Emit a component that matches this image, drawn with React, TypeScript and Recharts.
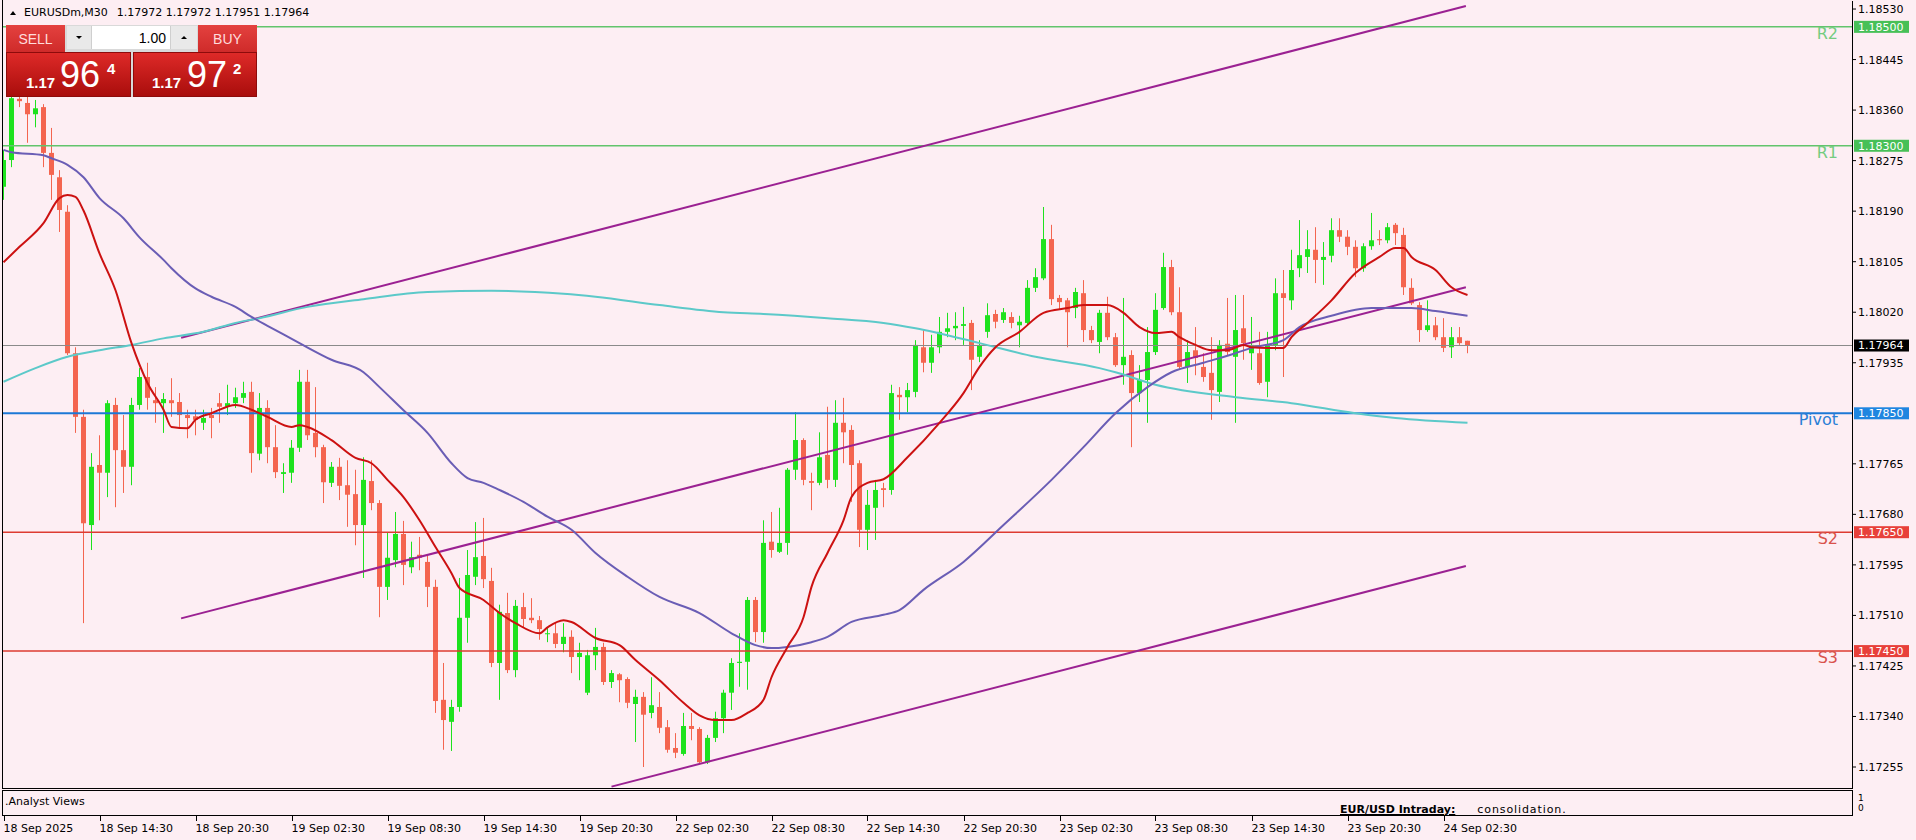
import React from 'react';
import { ComposedChart, Bar, Line, XAxis, YAxis, ReferenceLine } from 'recharts';

// ---------- DATA (EURUSDm, M30) ----------
const opens = [
  1.18231,1.18276,1.18379,1.18372,1.18353,1.18365,1.18288,1.18247,1.18189,1.17951,
  1.17844,1.17662,1.17763,1.17750,1.17864,1.17788,1.17760,1.17864,1.17911,1.17872,
  1.17867,1.17872,1.17869,1.17847,1.17845,1.17834,1.17847,1.17867,1.17861,1.17867,
  1.17876,1.17886,1.17782,1.17859,1.17793,1.17748,1.17750,1.17792,1.17903,1.17817,
  1.17793,1.17733,1.17760,1.17729,1.17714,1.17662,1.17736,1.17699,1.17558,1.17603,
  1.17647,1.17591,1.17612,1.17600,1.17558,1.17368,1.17331,1.17356,1.17506,1.17575,
  1.17610,1.17568,1.17430,1.17514,1.17418,1.17524,1.17506,1.17502,1.17479,1.17480,
  1.17462,1.17474,1.17440,1.17380,1.17443,1.17457,1.17398,1.17411,1.17403,1.17361,
  1.17373,1.17346,1.17356,1.17322,1.17287,1.17277,1.17324,1.17319,1.17263,1.17304,
  1.17337,1.17380,1.17430,1.17432,1.17536,1.17482,1.17634,1.17617,1.17632,1.17755,
  1.17805,1.17736,1.17733,1.17780,1.17738,1.17834,1.17822,1.17766,1.17654,1.17691,
  1.17724,1.17721,1.17881,1.17877,1.17886,1.17961,1.17935,1.17961,1.17987,1.17993,
  1.17997,1.18002,1.17945,1.17987,1.18017,1.18007,1.18012,1.17998,1.18002,1.18061,
  1.18077,1.18143,1.18044,1.18040,1.18027,1.18052,1.17990,1.17970,1.18019,1.17978,
  1.17931,1.17948,1.17884,1.17906,1.17953,1.18027,1.18096,1.18020,1.17928,1.17956,
  1.17928,1.17918,1.17886,1.17967,1.17945,1.17993,1.17951,1.17951,1.17903,1.17965,
  1.18052,1.18040,1.18094,1.18113,1.18125,1.18108,1.18115,1.18158,1.18147,1.18130,
  1.18094,1.18131,1.18143,1.18141,1.18167,1.18150,1.18061,1.18032,1.17990,1.17998,
  1.17978,1.17961,1.17978,1.17972,
];
const highs = [
  1.18293,1.18385,1.18384,1.18382,1.18377,1.18370,1.18330,1.18259,1.18200,1.17961,
  1.17856,1.17783,1.17813,1.17872,1.17876,1.17847,1.17876,1.17926,1.17935,1.17894,
  1.17884,1.17909,1.17884,1.17856,1.17856,1.17856,1.17859,1.17884,1.17898,1.17893,
  1.17903,1.17903,1.17884,1.17872,1.17830,1.17766,1.17805,1.17923,1.17923,1.17894,
  1.17797,1.17768,1.17775,1.17771,1.17755,1.17776,1.17771,1.17704,1.17649,1.17684,
  1.17669,1.17634,1.17642,1.17612,1.17570,1.17430,1.17368,1.17573,1.17620,1.17667,
  1.17674,1.17590,1.17528,1.17548,1.17536,1.17548,1.17539,1.17509,1.17489,1.17497,
  1.17497,1.17485,1.17464,1.17452,1.17489,1.17464,1.17418,1.17413,1.17406,1.17385,
  1.17381,1.17406,1.17381,1.17334,1.17312,1.17346,1.17346,1.17322,1.17309,1.17348,
  1.17385,1.17438,1.17480,1.17541,1.17541,1.17670,1.17684,1.17691,1.17758,1.17852,
  1.17808,1.17750,1.17818,1.17861,1.17872,1.17876,1.17830,1.17771,1.17721,1.17738,
  1.17733,1.17898,1.17894,1.17901,1.17973,1.17990,1.17982,1.18012,1.18019,1.18020,
  1.18029,1.18007,1.17973,1.18035,1.18024,1.18027,1.18020,1.18014,1.18074,1.18094,
  1.18197,1.18167,1.18049,1.18044,1.18061,1.18074,1.17997,1.18024,1.18046,1.17985,
  1.18044,1.17956,1.17931,1.17995,1.18052,1.18120,1.18108,1.18062,1.17973,1.17995,
  1.17951,1.17978,1.17973,1.18044,1.18049,1.18049,1.18012,1.17987,1.17987,1.18077,
  1.18091,1.18125,1.18175,1.18158,1.18163,1.18138,1.18178,1.18178,1.18158,1.18141,
  1.18136,1.18187,1.18158,1.18170,1.18170,1.18162,1.18077,1.18037,1.18040,1.18012,
  1.18010,1.17995,1.17995,1.17972,
];
const lows = [
  1.18209,1.18264,1.18365,1.18305,1.18331,1.18264,1.18209,1.18155,1.17948,1.17817,
  1.17497,1.17620,1.17670,1.17709,1.17692,1.17716,1.17729,1.17856,1.17856,1.17834,
  1.17817,1.17844,1.17827,1.17808,1.17813,1.17822,1.17808,1.17834,1.17847,1.17859,
  1.17867,1.17750,1.17771,1.17766,1.17741,1.17716,1.17733,1.17785,1.17805,1.17776,
  1.17699,1.17726,1.17704,1.17659,1.17628,1.17573,1.17687,1.17507,1.17536,1.17591,
  1.17561,1.17581,1.17586,1.17524,1.17346,1.17284,1.17282,1.17348,1.17464,1.17561,
  1.17556,1.17423,1.17368,1.17413,1.17406,1.17489,1.17497,1.17469,1.17465,1.17455,
  1.17448,1.17413,1.17401,1.17376,1.17418,1.17393,1.17388,1.17364,1.17354,1.17297,
  1.17255,1.17337,1.17312,1.17279,1.17270,1.17274,1.17300,1.17260,1.17260,1.17297,
  1.17312,1.17351,1.17390,1.17385,1.17465,1.17464,1.17607,1.17615,1.17612,1.17738,
  1.17729,1.17687,1.17729,1.17724,1.17726,1.17766,1.17701,1.17625,1.17620,1.17637,
  1.17692,1.17713,1.17839,1.17852,1.17877,1.17919,1.17918,1.17951,1.17978,1.17973,
  1.17965,1.17889,1.17936,1.17977,1.17993,1.18002,1.17993,1.17961,1.17998,1.18054,
  1.18074,1.18032,1.18024,1.17961,1.18010,1.17970,1.17968,1.17951,1.17973,1.17928,
  1.17898,1.17793,1.17869,1.17834,1.17948,1.18024,1.18015,1.17923,1.17901,1.17914,
  1.17903,1.17839,1.17869,1.17948,1.17834,1.17940,1.17923,1.17898,1.17877,1.17956,
  1.17911,1.18024,1.18079,1.18086,1.18069,1.18066,1.18104,1.18138,1.18116,1.18079,
  1.18088,1.18125,1.18133,1.18136,1.18133,1.18049,1.18032,1.17970,1.17987,1.17973,
  1.17953,1.17943,1.17965,1.17951,
];
const closes = [
  1.18276,1.18380,1.18375,1.18353,1.18363,1.18288,1.18251,1.18192,1.17951,1.17844,
  1.17665,1.17760,1.17750,1.17867,1.17788,1.17760,1.17864,1.17911,1.17876,1.17867,
  1.17874,1.17867,1.17847,1.17842,1.17839,1.17842,1.17842,1.17861,1.17867,1.17877,
  1.17884,1.17783,1.17859,1.17793,1.17751,1.17751,1.17792,1.17903,1.17813,1.17793,
  1.17734,1.17760,1.17728,1.17713,1.17662,1.17738,1.17699,1.17558,1.17607,1.17647,
  1.17595,1.17608,1.17607,1.17558,1.17366,1.17334,1.17356,1.17506,1.17578,1.17608,
  1.17571,1.17430,1.17516,1.17418,1.17526,1.17504,1.17502,1.17487,1.17480,1.17462,
  1.17474,1.17440,1.17447,1.17443,1.17457,1.17398,1.17413,1.17401,1.17363,1.17373,
  1.17343,1.17359,1.17321,1.17284,1.17279,1.17324,1.17319,1.17263,1.17304,1.17337,
  1.17380,1.17430,1.17432,1.17536,1.17482,1.17632,1.17620,1.17632,1.17755,1.17805,
  1.17738,1.17733,1.17776,1.17738,1.17834,1.17818,1.17763,1.17654,1.17696,1.17721,
  1.17721,1.17884,1.17877,1.17889,1.17965,1.17935,1.17961,1.17987,1.17993,1.17997,
  1.18000,1.17940,1.17965,1.18015,1.18004,1.18020,1.18002,1.18004,1.18061,1.18079,
  1.18143,1.18042,1.18037,1.18020,1.18054,1.17990,1.17973,1.18019,1.17978,1.17931,
  1.17945,1.17884,1.17906,1.17953,1.18024,1.18096,1.18020,1.17928,1.17953,1.17943,
  1.17911,1.17889,1.17965,1.17953,1.17990,1.17968,1.17965,1.17901,1.17965,1.18052,
  1.18044,1.18091,1.18116,1.18126,1.18108,1.18113,1.18158,1.18147,1.18130,1.18094,
  1.18131,1.18141,1.18141,1.18163,1.18153,1.18062,1.18035,1.17990,1.17998,1.17978,
  1.17960,1.17978,1.17968,1.17964,
];

// moving averages (bar index -> value)
const redMaBars = [0,2,5,7,8,9,10,12,14,16,18,20,21,23,24,26,29,31,33,36,37,38,41,44,46,48,50,52,54,56,57,60,62,64,67,68,70,71,74,77,79,82,85,87,89,91,93,95,96,98,100,101,103,105,106,108,110,113,117,120,122,124,127,130,133,135,138,140,142,144,146,147,149,151,153,155,156,158,160,161,163,166,169,172,174,175,176,179,181,183];
const redMaValues = [1.18104,1.18130,1.18170,1.18212,1.18217,1.18214,1.18191,1.18119,1.18057,1.17968,1.17901,1.17856,1.17827,1.17825,1.17839,1.17850,1.17864,1.17856,1.17844,1.17827,1.17830,1.17827,1.17805,1.17775,1.17766,1.17738,1.17709,1.17670,1.17625,1.17581,1.17556,1.17536,1.17514,1.17497,1.17480,1.17490,1.17502,1.17499,1.17472,1.17460,1.17435,1.17401,1.17363,1.17342,1.17334,1.17334,1.17346,1.17368,1.17406,1.17457,1.17507,1.17558,1.17615,1.17670,1.17709,1.17733,1.17739,1.17776,1.17834,1.17884,1.17928,1.17961,1.17987,1.18019,1.18027,1.18032,1.18032,1.18019,1.17995,1.17985,1.17987,1.17978,1.17965,1.17956,1.17956,1.17965,1.17961,1.17960,1.17960,1.17978,1.18002,1.18040,1.18086,1.18113,1.18128,1.18128,1.18113,1.18091,1.18062,1.18049];
const blueMaBars = [0,1,5,6,8,10,12,15,17,20,21,24,26,29,31,34,37,41,45,47,50,53,56,58,60,62,65,68,71,74,78,82,87,91,94,96,98,101,103,106,110,112,115,120,125,131,135,139,143,146,150,154,156,160,162,166,171,176,179,183];
const blueMaValues = [1.18293,1.18289,1.18284,1.18279,1.18268,1.18247,1.18212,1.18178,1.18146,1.18108,1.18094,1.18060,1.18046,1.18029,1.18012,1.17990,1.17968,1.17940,1.17919,1.17894,1.17855,1.17817,1.17766,1.17741,1.17733,1.17721,1.17701,1.17676,1.17654,1.17615,1.17575,1.17541,1.17514,1.17480,1.17460,1.17455,1.17457,1.17465,1.17474,1.17499,1.17511,1.17519,1.17553,1.17600,1.17662,1.17738,1.17793,1.17850,1.17894,1.17919,1.17935,1.17951,1.17960,1.17973,1.17995,1.18014,1.18027,1.18027,1.18022,1.18014];
const cyanMaBars = [0,4,8,12,16,20,25,29,32,38,45,53,61,70,74,82,90,95,103,110,114,122,129,137,139,144,154,161,169,174,183];
const cyanMaValues = [1.17903,1.17926,1.17945,1.17956,1.17965,1.17976,1.17987,1.18002,1.18010,1.18029,1.18042,1.18054,1.18056,1.18051,1.18046,1.18032,1.18020,1.18017,1.18010,1.18002,1.17993,1.17968,1.17945,1.17926,1.17919,1.17898,1.17877,1.17867,1.17850,1.17842,1.17834];

// price axis ticks
const priceTicks = [1.18530,1.18445,1.18360,1.18275,1.18190,1.18105,1.18020,1.17935,1.17850,1.17765,1.17680,1.17595,1.17510,1.17425,1.17340,1.17255];
// horizontal levels
const levelValues = [1.18500, 1.18300, 1.17850, 1.17650, 1.17450];
const levelNames = ['R2', 'R1', 'Pivot', 'S2', 'S3'];
const levelKinds = ['r', 'r', 'p', 's', 's'];
const currentPrice = 1.17964;

// channel lines (bar index, price)
const channelUpper = [{ x: 22.2, y: 1.17977 }, { x: 182.8, y: 1.18535 }];
const channelMiddle = [{ x: 22.2, y: 1.17505 }, { x: 182.8, y: 1.18062 }];
const channelLower = [{ x: 76, y: 1.17222 }, { x: 182.8, y: 1.17593 }];

// time axis
const timeTickBars = [0,12,24,36,48,60,72,84,96,108,120,132,144,156,168,180];
const timeLabels = ['18 Sep 2025','18 Sep 14:30','18 Sep 20:30','19 Sep 02:30','19 Sep 08:30','19 Sep 14:30','19 Sep 20:30','22 Sep 02:30','22 Sep 08:30','22 Sep 14:30','22 Sep 20:30','23 Sep 02:30','23 Sep 08:30','23 Sep 14:30','23 Sep 20:30','24 Sep 02:30'];

const header = { symbol: 'EURUSDm,M30', o: '1.17972', h: '1.17972', l: '1.17951', c: '1.17964' };

// ---------- STYLE ----------
const BG = '#fdeef3';
const BULL = '#1ee21e';
const BEAR = '#f4654f';
const FONT = "'DejaVu Sans', sans-serif";
const X_DOMAIN: [number, number] = [-0.1875, 231.0625];
const Y_DOMAIN: [number, number] = [1.172197, 1.185435];
const AX = 1852;

const kindStyle: Record<string, { line: string; text: string; box: string; w: number }> = {
  r: { line: '#62c46c', text: '#74cc80', box: '#47c057', w: 1.5 },
  p: { line: '#1c78d6', text: '#2a7fd6', box: '#1f86e0', w: 2 },
  s: { line: '#dd3b31', text: '#d9534c', box: '#e8403a', w: 1.5 },
};

const data: any[] = opens.map((o, i) => ({
  i, o, h: highs[i], l: lows[i], c: closes[i], red: null, blue: null, cyan: null,
}));
redMaBars.forEach((b, k) => { data[b].red = redMaValues[k]; });
blueMaBars.forEach((b, k) => { data[b].blue = blueMaValues[k]; });
cyanMaBars.forEach((b, k) => { data[b].cyan = cyanMaValues[k]; });

const allYTicks = Array.from(new Set([...priceTicks, ...levelValues, currentPrice])).sort((a, b) => b - a);

function Candle(props: any) {
  const { x, y, width, height, payload } = props;
  if (!payload || x == null || y == null) return null;
  const { o, h, l, c } = payload;
  const cx = Math.round(x + width / 2) + 0.5;
  const k = h > l ? height / (h - l) : 0;
  const py = (p: number) => y + (h - p) * k;
  const up = c >= o;
  const color = up ? BULL : BEAR;
  const top = py(Math.max(o, c));
  const bot = py(Math.min(o, c));
  return (
    <g>
      <line x1={cx} x2={cx} y1={y} y2={y + Math.max(height, 1)} stroke={color} strokeWidth={1} />
      <rect x={cx - 2.5} y={top} width={5} height={Math.max(1, bot - top)} fill={color} />
    </g>
  );
}

function YTick(props: any) {
  const { y, payload } = props;
  const v = payload.value as number;
  const li = levelValues.findIndex((lv) => Math.abs(lv - v) < 1e-7);
  if (li >= 0) {
    const st = kindStyle[levelKinds[li]];
    return (
      <g>
        <rect x={AX + 2} y={y - 6} width={55} height={12} fill={st.box} />
        <text x={AX + 6} y={y} dy="0.36em" fontSize={11} fill="#ffffff" fontFamily={FONT}>{v.toFixed(5)}</text>
        <text x={AX - 14} y={y + 12} textAnchor="end" fontSize={16} fill={st.text} fontFamily={FONT}>{levelNames[li]}</text>
      </g>
    );
  }
  if (Math.abs(v - currentPrice) < 1e-7) {
    return (
      <g>
        <rect x={AX + 2} y={y - 6} width={55} height={12} fill="#000000" />
        <text x={AX + 6} y={y} dy="0.36em" fontSize={11} fill="#ffffff" fontFamily={FONT}>{v.toFixed(5)}</text>
      </g>
    );
  }
  return (
    <g>
      <line x1={AX} x2={AX + 4} y1={y} y2={y} stroke="#000" strokeWidth={1} />
      <text x={AX + 6} y={y} dy="0.36em" fontSize={11} fill="#000" fontFamily={FONT}>{v.toFixed(5)}</text>
    </g>
  );
}

function XTick(props: any) {
  const { x, payload } = props;
  const idx = timeTickBars.indexOf(payload.value);
  const tx = Math.round(x) + 0.5;
  return (
    <g>
      <line x1={tx} x2={tx} y1={816} y2={821} stroke="#000" strokeWidth={1} />
      <text x={tx - 1} y={832} fontSize={11} fill="#000" fontFamily={FONT}>{idx >= 0 ? timeLabels[idx] : ''}</text>
    </g>
  );
}

const abs = (l: number, t: number, w: number, h: number, extra: React.CSSProperties = {}): React.CSSProperties => ({
  position: 'absolute', left: l, top: t, width: w, height: h, ...extra,
});

export default function App() {
  return (
    <div style={{ position: 'relative', width: 1916, height: 840, background: BG, overflow: 'hidden', fontFamily: FONT }}>
      <style>{`html,body{margin:0;padding:0;background:${BG};}`}</style>
      <ComposedChart
        width={1916}
        height={840}
        data={data}
        margin={{ top: 1, right: 0, bottom: 0, left: 2 }}
        style={{ fontFamily: FONT }}
      >
        <XAxis
          dataKey="i"
          type="number"
          domain={X_DOMAIN}
          allowDataOverflow
          ticks={timeTickBars}
          interval={0}
          height={52}
          axisLine={false}
          tickLine={false}
          tick={<XTick />}
        />
        <YAxis
          orientation="right"
          type="number"
          domain={Y_DOMAIN}
          allowDataOverflow
          ticks={allYTicks}
          interval={0}
          width={64}
          tickSize={4}
          tickMargin={2}
          tickLine={false}
          axisLine={{ stroke: '#000', strokeWidth: 1, shapeRendering: 'crispEdges' }}
          tick={<YTick />}
        />
        <ReferenceLine y={currentPrice} stroke="#8a8a8a" strokeWidth={1} ifOverflow="visible" />
        <Bar
          dataKey={(d: any) => [d.l, d.h]}
          barSize={8}
          shape={<Candle />}
          isAnimationActive={false}
          activeBar={false}
        />
        {levelValues.map((v, k) => (
          <ReferenceLine
            key={'lvl' + k}
            y={v}
            stroke={kindStyle[levelKinds[k]].line}
            strokeWidth={kindStyle[levelKinds[k]].w}
            ifOverflow="visible"
          />
        ))}
        <ReferenceLine segment={channelUpper} stroke="#9b2192" strokeWidth={2} ifOverflow="visible" />
        <ReferenceLine segment={channelMiddle} stroke="#9b2192" strokeWidth={2} ifOverflow="visible" />
        <ReferenceLine segment={channelLower} stroke="#9b2192" strokeWidth={2} ifOverflow="visible" />
        <Line dataKey="cyan" type="monotone" connectNulls dot={false} activeDot={false} stroke="#5cc9c9" strokeWidth={2} isAnimationActive={false} />
        <Line dataKey="blue" type="monotone" connectNulls dot={false} activeDot={false} stroke="#6a5db5" strokeWidth={2} isAnimationActive={false} />
        <Line dataKey="red" type="monotone" connectNulls dot={false} activeDot={false} stroke="#cc1111" strokeWidth={2} isAnimationActive={false} />
      </ComposedChart>

      {/* frame */}
      <div style={abs(2, 0, 1, 789, { background: '#000' })} />
      <div style={abs(2, 788, 1851, 1, { background: '#000' })} />
      <div style={abs(2, 790, 1851, 26, { border: '1px solid #000', boxSizing: 'border-box' })} />

      {/* sub window */}
      <div style={abs(5, 795, 200, 14, { fontSize: 11, lineHeight: '14px', color: '#000', whiteSpace: 'pre' })}>.Analyst Views</div>
      <div style={abs(1340, 803, 300, 14, { fontSize: 11, lineHeight: '14px', color: '#000', whiteSpace: 'pre' })}>
        <span style={{ fontWeight: 'bold', textDecoration: 'underline' }}>EUR/USD Intraday:</span>
        <span style={{ marginLeft: 22, letterSpacing: 0.9 }}>consolidation.</span>
      </div>
      <div style={abs(1858, 793, 10, 10, { fontSize: 9, lineHeight: '10px', color: '#000' })}>1</div>
      <div style={abs(1858, 803, 10, 10, { fontSize: 9, lineHeight: '10px', color: '#000' })}>0</div>

      {/* header */}
      <div style={abs(8, 6, 400, 14, { fontSize: 11, lineHeight: '14px', color: '#000', whiteSpace: 'pre', display: 'flex', alignItems: 'center' })}>
        <span style={{ display: 'inline-block', width: 0, height: 0, borderLeft: '3px solid transparent', borderRight: '3px solid transparent', borderBottom: '4px solid #000', marginLeft: 2, marginRight: 8 }} />
        <span>{header.symbol}</span>
        <span style={{ marginLeft: 9 }}>{`${header.o} ${header.h} ${header.l} ${header.c}`}</span>
      </div>

      {/* one-click trading panel */}
      <div style={abs(6, 25, 251, 72, { background: '#d9d9d9' })} />
      <div style={abs(6, 25, 59, 27, { background: 'linear-gradient(#e4413f,#cf2b2a)', color: '#ffdcdc', fontSize: 14, fontFamily: "'Liberation Sans', sans-serif", display: 'flex', alignItems: 'center', justifyContent: 'center' })}>SELL</div>
      <div style={abs(198, 25, 59, 27, { background: 'linear-gradient(#e4413f,#cf2b2a)', color: '#ffdcdc', fontSize: 14, fontFamily: "'Liberation Sans', sans-serif", display: 'flex', alignItems: 'center', justifyContent: 'center' })}>BUY</div>
      <div style={abs(67, 26, 25, 23, { background: '#e9e9e9', borderRight: '1px solid #cfcfcf', boxSizing: 'border-box', display: 'flex', alignItems: 'center', justifyContent: 'center' })}>
        <span style={{ width: 0, height: 0, borderLeft: '3px solid transparent', borderRight: '3px solid transparent', borderTop: '3px solid #000' }} />
      </div>
      <div style={abs(92, 26, 78, 23, { background: '#ffffff', fontSize: 14, fontFamily: "'Liberation Sans', sans-serif", color: '#000', display: 'flex', alignItems: 'center', justifyContent: 'flex-end', paddingRight: 4, boxSizing: 'border-box' })}>1.00</div>
      <div style={abs(170, 26, 27, 23, { background: '#e9e9e9', borderLeft: '1px solid #cfcfcf', boxSizing: 'border-box', display: 'flex', alignItems: 'center', justifyContent: 'center' })}>
        <span style={{ width: 0, height: 0, borderLeft: '3px solid transparent', borderRight: '3px solid transparent', borderBottom: '3px solid #000' }} />
      </div>
      <div style={abs(6, 52, 125, 45, { background: 'linear-gradient(#de2a28,#a90d0c)', border: '1px solid #8e0b0b', boxSizing: 'border-box', color: '#fff', fontFamily: "'Liberation Sans', sans-serif" })}>
        <span style={abs(19, 22, 40, 16, { fontSize: 15, fontWeight: 'bold', lineHeight: '15px' })}>1.17</span>
        <span style={abs(53, 4, 50, 36, { fontSize: 36, lineHeight: '36px' })}>96</span>
        <span style={abs(100, 8, 14, 15, { fontSize: 15, fontWeight: 'bold', lineHeight: '15px' })}>4</span>
      </div>
      <div style={abs(133, 52, 124, 45, { background: 'linear-gradient(#de2a28,#a90d0c)', border: '1px solid #8e0b0b', boxSizing: 'border-box', color: '#fff', fontFamily: "'Liberation Sans', sans-serif" })}>
        <span style={abs(18, 22, 40, 16, { fontSize: 15, fontWeight: 'bold', lineHeight: '15px' })}>1.17</span>
        <span style={abs(53, 4, 50, 36, { fontSize: 36, lineHeight: '36px' })}>97</span>
        <span style={abs(99, 8, 14, 15, { fontSize: 15, fontWeight: 'bold', lineHeight: '15px' })}>2</span>
      </div>
    </div>
  );
}
